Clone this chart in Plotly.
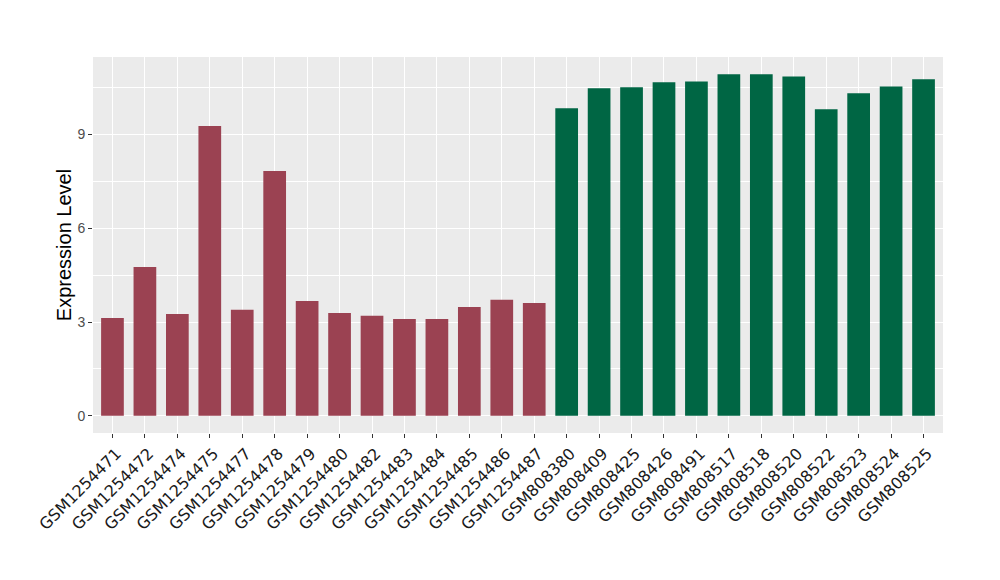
import plotly.graph_objects as go

samples = ["GSM1254471", "GSM1254472", "GSM1254474", "GSM1254475", "GSM1254477",
           "GSM1254478", "GSM1254479", "GSM1254480", "GSM1254482", "GSM1254483",
           "GSM1254484", "GSM1254485", "GSM1254486", "GSM1254487",
           "GSM808380", "GSM808409", "GSM808425", "GSM808426", "GSM808491",
           "GSM808517", "GSM808518", "GSM808520", "GSM808522", "GSM808523",
           "GSM808524", "GSM808525"]
values = [3.13, 4.76, 3.26, 9.27, 3.39, 7.83, 3.67, 3.29, 3.20, 3.10,
          3.10, 3.48, 3.71, 3.61,
          9.84, 10.48, 10.51, 10.67, 10.70, 10.93, 10.93, 10.86, 9.81, 10.32,
          10.54, 10.77]
groups = ["A"] * 14 + ["B"] * 12
group_colors = {"A": "#9B4252", "B": "#006644"}
y_ticks = [0, 3, 6, 9]

colors = [group_colors[g] for g in groups]

fig = go.Figure()
fig.add_trace(go.Bar(
    x=samples, y=values, marker=dict(color=colors, line=dict(width=0)),
    width=0.7, showlegend=False,
))

fig.update_layout(
    width=1000, height=580,
    margin=dict(l=85, r=65, t=49, b=155, autoexpand=False),
    paper_bgcolor="white", plot_bgcolor="#EBEBEB",
    font=dict(family="Liberation Sans, Arial, sans-serif"),
)
fig.update_xaxes(
    type="category", range=[-0.6, 25.6],
    showgrid=True, gridcolor="white", gridwidth=1.1,
    ticks="outside", ticklen=4, tickcolor="#333333", tickwidth=1,
    tickangle=-45, ticklabelshift=4,
    tickfont=dict(family="DejaVu Sans", size=16, color="#1A1A1A"),
    zeroline=False, showline=False, automargin=False,
)
fig.update_yaxes(
    range=[-0.55, 11.48],
    tickvals=y_ticks, ticktext=[str(v) for v in y_ticks],
    showgrid=True, gridcolor="white", gridwidth=1.1,
    minor=dict(tickvals=[1.5, 4.5, 7.5, 10.5], showgrid=True,
               gridcolor="white", gridwidth=0.5, ticks=""),
    ticks="outside", ticklen=4, tickcolor="#333333", tickwidth=1,
    tickfont=dict(family="Liberation Sans", size=14, color="#4D4D4D"),
    title=dict(text="Expression Level",
               font=dict(family="Liberation Sans", size=20, color="black"),
               standoff=0),
    zeroline=False, showline=False, automargin=False,
)

fig.write_html("out.html")
